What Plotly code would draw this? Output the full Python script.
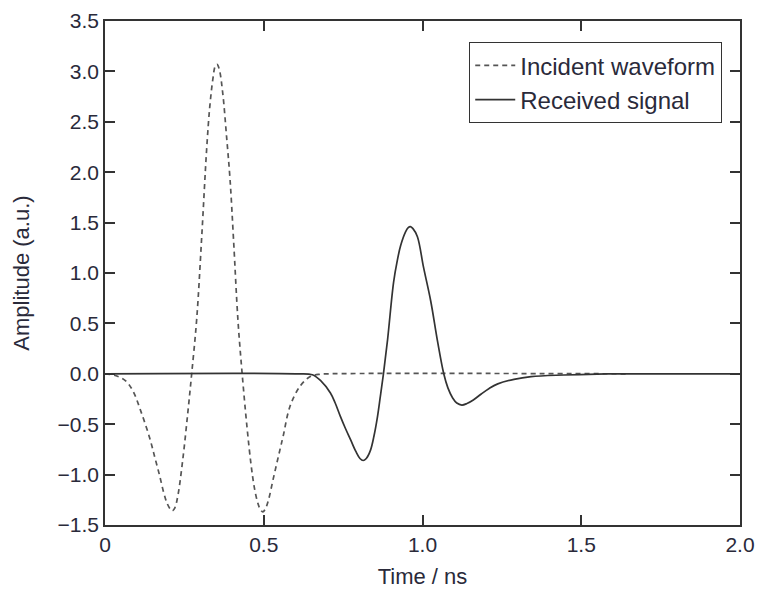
import plotly.graph_objects as go

# Incident waveform (dashed)
incident_t = [0.0, 0.035, 0.065, 0.088, 0.115, 0.141, 0.157, 0.172, 0.185, 0.195, 0.205, 0.212, 0.22,
              0.23, 0.245, 0.261, 0.273, 0.289, 0.305, 0.32, 0.33, 0.34, 0.347, 0.353, 0.36,
              0.371, 0.383, 0.394, 0.405, 0.419, 0.432, 0.447, 0.46, 0.471, 0.482, 0.49, 0.497,
              0.505, 0.515, 0.53, 0.552, 0.561, 0.583, 0.615, 0.645, 0.675, 0.705, 1.65]
incident_v = [0.0, -0.02, -0.07, -0.17, -0.39, -0.64, -0.83, -1.01, -1.18, -1.28, -1.34, -1.36, -1.33,
              -1.2, -0.85, -0.38, 0.0, 0.55, 1.38, 2.22, 2.65, 2.93, 3.05, 3.07, 3.02,
              2.78, 2.35, 1.92, 1.32, 0.52, 0.0, -0.52, -0.9, -1.14, -1.29, -1.35, -1.37,
              -1.34, -1.25, -1.04, -0.74, -0.62, -0.32, -0.12, -0.03, -0.005, 0.0, 0.0]

# Received signal (solid)
received_t = [0.0, 0.6, 0.653, 0.68, 0.71, 0.725, 0.741, 0.757, 0.773, 0.79, 0.803, 0.813,
              0.823, 0.836, 0.847, 0.858, 0.867, 0.877, 0.89, 0.909, 0.921, 0.931, 0.947,
              0.955, 0.962, 0.97, 0.984, 1.003, 1.026, 1.047, 1.067, 1.08, 1.095, 1.108,
              1.124, 1.14, 1.16, 1.185, 1.21, 1.237, 1.288, 1.342, 1.445, 1.55, 1.65, 2.0]
received_v = [0.0, 0.0, -0.01, -0.07, -0.19, -0.29, -0.42, -0.54, -0.65, -0.77, -0.84, -0.86,
              -0.84, -0.76, -0.62, -0.43, -0.23, 0.0, 0.34, 0.91, 1.13, 1.27, 1.41,
              1.45, 1.46, 1.44, 1.36, 1.06, 0.72, 0.33, 0.0, -0.14, -0.24, -0.29,
              -0.31, -0.295, -0.26, -0.2, -0.145, -0.1, -0.055, -0.028, -0.012, -0.003, 0.0, 0.0]

x_tickvals = [0, 0.5, 1.0, 1.5, 2.0]
x_ticktext = ["0", "0.5", "1.0", "1.5", "2.0"]
y_tickvals = [-1.5, -1.0, -0.5, 0.0, 0.5, 1.0, 1.5, 2.0, 2.5, 3.0, 3.5]
y_ticktext = ["\u22121.5", "\u22121.0", "\u22120.5", "0.0", "0.5", "1.0", "1.5", "2.0", "2.5", "3.0", "3.5"]

FONT = "Liberation Sans, Arial, sans-serif"
TXT = "#2a2a3a"

fig = go.Figure()
fig.add_trace(go.Scatter(x=incident_t, y=incident_v, mode="lines", name="Incident waveform",
                         line=dict(color="#555555", width=1.7, dash="5px,4px", shape="spline", smoothing=1.0)))
fig.add_trace(go.Scatter(x=received_t, y=received_v, mode="lines", name="Received signal",
                         line=dict(color="#333333", width=1.7, shape="spline", smoothing=1.0)))

axis_common = dict(showline=True, linecolor="#333333", linewidth=1.5, mirror="ticks",
                   ticks="inside", ticklen=10, tickwidth=1.5, tickcolor="#333333",
                   showgrid=False, zeroline=False, automargin=False,
                   tickfont=dict(family=FONT, size=21, color=TXT))

fig.update_xaxes(range=[0, 2], tickvals=x_tickvals, ticktext=x_ticktext,
                 title=dict(text="Time / ns", font=dict(family=FONT, size=22, color=TXT), standoff=14),
                 **axis_common)
fig.update_yaxes(range=[-1.5, 3.5], tickvals=y_tickvals, ticktext=y_ticktext,
                 title=dict(text="Amplitude (a.u.)", font=dict(family=FONT, size=22, color=TXT), standoff=22),
                 **axis_common)

fig.update_layout(
    width=757, height=594,
    margin=dict(l=105, r=17, t=21, b=69),
    paper_bgcolor="white", plot_bgcolor="white",
    showlegend=True,
    legend=dict(x=0.9717, y=0.958, xanchor="right", yanchor="top",
                bordercolor="#333333", borderwidth=1.2, bgcolor="white",
                font=dict(family=FONT, size=24, color=TXT),
                tracegroupgap=0, itemwidth=40),
)

fig.write_html("out.html", config={"displayModeBar": False},
               post_script="document.body.style.margin='0';document.body.style.overflow='hidden';")
